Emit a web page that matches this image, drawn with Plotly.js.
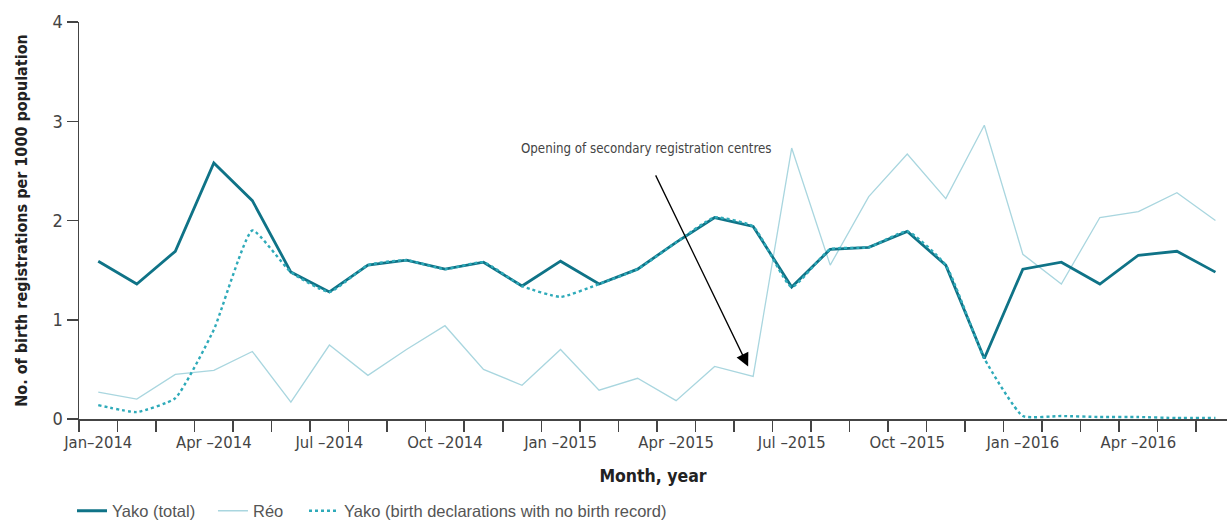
<!DOCTYPE html>
<html>
<head>
<meta charset="utf-8">
<script src="https://cdn.plot.ly/plotly-3.0.1.min.js"></script>
<style>html,body{margin:0;padding:0;background:#fff;}#chart{width:1227px;height:522px;}</style>
</head>
<body>
<div id="chart"></div>
<script>
// Months Jan 2014 .. Jun 2016 (index 0..29)
const monthIndex = [0,1,2,3,4,5,6,7,8,9,10,11,12,13,14,15,16,17,18,19,20,21,22,23,24,25,26,27,28,29];

const yakoTotal = [1.59,1.36,1.69,2.58,2.20,1.48,1.28,1.55,1.60,1.51,1.58,1.34,1.59,1.36,1.51,1.78,2.03,1.94,1.33,1.71,1.73,1.89,1.55,0.61,1.51,1.58,1.36,1.65,1.69,1.48];
const reo       = [0.27,0.20,0.45,0.49,0.68,0.17,0.745,0.44,0.70,0.94,0.50,0.34,0.70,0.29,0.41,0.185,0.53,0.43,2.73,1.55,2.24,2.67,2.22,2.96,1.66,1.36,2.03,2.09,2.28,2.00];
const yakoNoRecord = [0.14,0.07,0.21,0.90,1.90,1.48,1.28,1.55,1.60,1.51,1.58,1.34,1.23,1.36,1.51,1.78,2.03,1.94,1.33,1.71,1.73,1.89,1.55,0.61,0.03,0.03,0.02,0.02,0.01,0.01];

const tickPositions = [0,3,6,9,12,15,18,21,24,27];
const tickLabels = ["Jan\u20132014","Apr \u20132014","Jul \u20132014","Oct \u20132014","Jan \u20132015","Apr \u20132015","Jul \u20132015","Oct \u20132015","Jan \u20132016","Apr \u20132016"];

const seriesNames = ["Yako (total)","R\u00e9o","Yako (birth declarations with no birth record)"];
const annotationText = "Opening of secondary registration centres";

const NARROW = "'Liberation Sans Narrow','Arial Narrow','DejaVu Sans Condensed','Roboto Condensed',sans-serif";
const LEGFONT = {family: "'Liberation Sans','Noto Sans',sans-serif", size: 16.5, color: '#555'};

const traces = [
  {x: monthIndex, y: reo, name: seriesNames[1], type: 'scatter', mode: 'lines',
   line: {color: '#a9d6df', width: 1.3}, legend: 'legend2'},
  {x: monthIndex, y: yakoTotal, name: seriesNames[0], type: 'scatter', mode: 'lines',
   line: {color: '#0f7387', width: 2.8}, legend: 'legend'},
  {x: monthIndex, y: yakoNoRecord, name: seriesNames[2], type: 'scatter', mode: 'lines',
   line: {color: '#2eaab9', width: 2.4, dash: 'dot', shape: 'spline', smoothing: 0.45}, legend: 'legend3'}
];

function legendAt(xPaper) {
  return {orientation: 'h', x: xPaper, xanchor: 'left', yref: 'container', y: 0.021, yanchor: 'middle',
          font: LEGFONT, bgcolor: 'rgba(0,0,0,0)'};
}

const layout = {
  width: 1227, height: 522,
  margin: {l: 79, r: 0, t: 22, b: 103},
  paper_bgcolor: '#fff', plot_bgcolor: '#fff',
  font: {family: NARROW, color: '#444', size: 17},
  showlegend: true,
  legend: legendAt(-0.0061),
  legend2: legendAt(0.1167),
  legend3: legendAt(0.196),
  xaxis: {
    range: [-0.5, 29.3], showgrid: false, zeroline: false,
    showline: true, linecolor: '#444', linewidth: 1.5,
    tickmode: 'array', tickvals: tickPositions, ticktext: tickLabels,
    ticks: 'outside', ticklen: 8, tickcolor: 'rgba(0,0,0,0)',
    tickfont: {family: NARROW, size: 16.5, color: '#444'},
    minor: {tickmode: 'linear', tick0: -0.5, dtick: 1, ticks: 'outside', ticklen: 11, tickwidth: 1.5, tickcolor: '#444', showgrid: false},
    title: {text: 'Month, year', font: {family: NARROW, size: 17.5, color: '#222', weight: 'bold'}, standoff: 18}
  },
  yaxis: {
    range: [0, 4], showgrid: false, zeroline: false,
    showline: true, linecolor: '#444', linewidth: 1.5,
    tickmode: 'array', tickvals: [0,1,2,3,4],
    ticks: 'outside', ticklen: 11, tickwidth: 1.5, tickcolor: '#444',
    tickfont: {family: NARROW, size: 18, color: '#444'},
    title: {text: 'No. of birth registrations per 1000 population', font: {family: NARROW, size: 16, color: '#222', weight: 'bold'}, standoff: 21}
  },
  annotations: [
    {x: 14.22, y: 2.73, xref: 'x', yref: 'y', text: annotationText, showarrow: false,
     font: {family: NARROW, size: 13.2, color: '#444'}},
    {x: 16.87, y: 0.53, xref: 'x', yref: 'y', ax: 14.45, ay: 2.47, axref: 'x', ayref: 'y',
     text: '', showarrow: true, arrowhead: 2, arrowsize: 2, arrowwidth: 1.3, arrowcolor: '#000'}
  ]
};

Plotly.newPlot('chart', traces, layout, {displayModeBar: false, staticPlot: true});
</script>
</body>
</html>
